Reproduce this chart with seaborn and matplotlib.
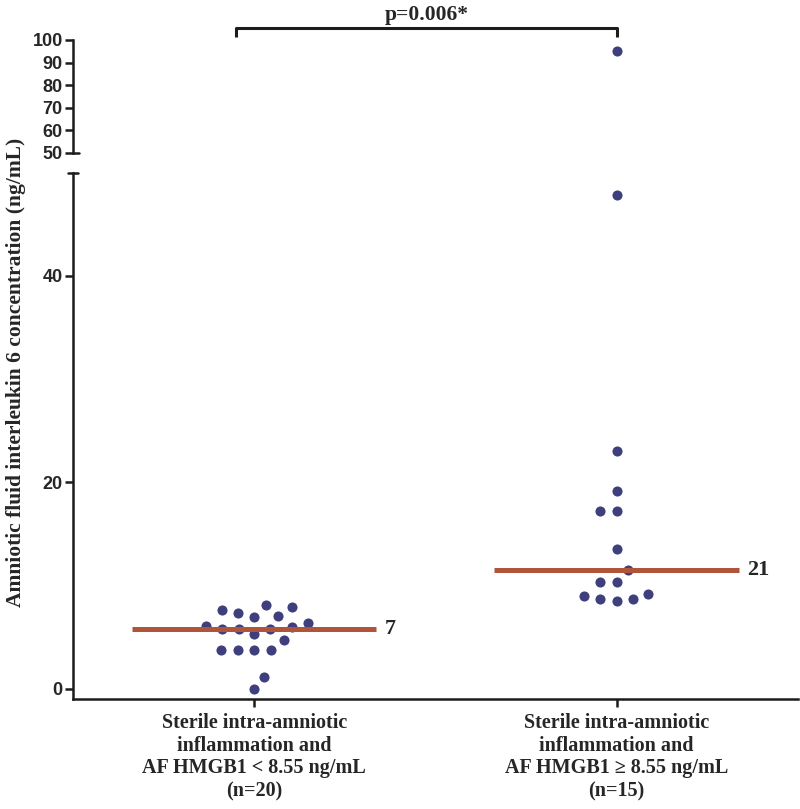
import numpy as np
import pandas as pd
import matplotlib
matplotlib.use('Agg')
import matplotlib.pyplot as plt
import seaborn as sns

# ============================================================
# Data
# ============================================================
groups = [
    'Sterile intra-amniotic\ninflammation and\nAF HMGB1 < 8.55 ng/mL\n(n=20)',
    'Sterile intra-amniotic\ninflammation and\nAF HMGB1 \u2265 8.55 ng/mL\n(n=15)',
]
low_hmgb1_il6 = [8.1, 7.6, 7.1, 7.0, 7.4, 7.9, 6.4, 6.0, 5.8, 5.3,
                 5.8, 5.8, 6.05, 4.7, 3.8, 3.8, 3.75, 3.75, 1.2, 0.0]
high_hmgb1_il6 = [95.3, 47.8, 23.0, 19.2, 17.2, 17.2, 13.6, 11.5,
                  10.4, 10.4, 9.2, 8.7, 8.5, 8.7, 9.0]
median_labels = ['7', '21']
p_label = 'p=0.006*'
lower_ticks = [0, 20, 40]
upper_ticks = [50, 60, 70, 80, 90, 100]
axis_break = 50

DOT = '#3f3f7d'
MED = '#b1553a'
INK = '#1c1c1c'
SERIF = ['Liberation Serif', 'DejaVu Serif']
SANS = ['Liberation Sans', 'DejaVu Sans']

df = pd.DataFrame({
    'group': [groups[0]] * len(low_hmgb1_il6) + [groups[1]] * len(high_hmgb1_il6),
    'il6': low_hmgb1_il6 + high_hmgb1_il6,
})
medians = df.groupby('group')['il6'].median().reindex(groups).values

sns.set_style('ticks')

fig = plt.figure(figsize=(8, 8.09), dpi=100)
ax_hi = fig.add_axes([0.09125, 0.8113, 0.906, 0.1393])
ax_lo = fig.add_axes([0.09125, 0.1356, 0.906, 0.651])

# ============================================================
# Dots + median bars, split across the broken axis
# ============================================================
half = 0.337
parts = {ax_hi: df[df['il6'] >= axis_break], ax_lo: df[df['il6'] < axis_break]}
for ax, sub in parts.items():
    sns.swarmplot(data=sub, x='group', y='il6', order=groups, color=DOT,
                  size=9.3, linewidth=2, edgecolor='white', ax=ax, zorder=3)
    ax.hlines(medians, np.arange(len(groups)) - half, np.arange(len(groups)) + half,
              color=MED, lw=3.6, zorder=4)
    ax.set_xlim(-0.5, 1.5)
    ax.set_xlabel('')
    ax.set_ylabel('')
    for s in ['top', 'right']:
        ax.spines[s].set_visible(False)
    for s in ['left', 'bottom']:
        ax.spines[s].set_linewidth(1.8)
        ax.spines[s].set_color(INK)
    ax.tick_params(axis='both', direction='out', length=5.8, width=1.8, color=INK, pad=1.5)

# upper panel (50-100)
ax_hi.set_ylim(50, 100)
ax_hi.spines['bottom'].set_visible(False)
ax_hi.set_xticks([])
ax_hi.set_yticks(upper_ticks)
ax_hi.set_yticklabels([str(t) for t in upper_ticks], family=SANS, fontweight='bold', fontsize=13)
ax_hi.plot([0, 0.0083], [0, 0], transform=ax_hi.transAxes, color=INK, lw=1.8, clip_on=False)

# lower panel (0-50)
ax_lo.set_ylim(-1, 50)
ax_lo.set_yticks(lower_ticks)
ax_lo.set_yticklabels([str(t) for t in lower_ticks], family=SANS, fontweight='bold', fontsize=13)
ax_lo.plot([-0.007, 0.007], [1, 1], transform=ax_lo.transAxes, color=INK, lw=1.8, clip_on=False)
ax_lo.set_xticks(range(len(groups)))
ax_lo.set_xticklabels(groups, family=SERIF, fontweight='bold', fontsize=14.5, linespacing=1.18)
ax_lo.tick_params(axis='x', pad=4)

# median labels
for i, (m, lab) in enumerate(zip(medians, median_labels)):
    ax_lo.annotate(lab, xy=(i + half, m), xytext=(6, 0), textcoords='offset points',
                   ha='left', va='center', family=SERIF, fontweight='bold', fontsize=16)

# significance bracket
ax_hi.plot([-0.05, -0.05, 1.0, 1.0], [101.3, 105.3, 105.3, 101.3], color=INK, lw=2.2,
           clip_on=False, solid_capstyle='butt')
ax_hi.text(0.475, 111.0, p_label, ha='center', va='center', family=SERIF,
           fontweight='bold', fontsize=15.5)

fig.text(16 / 800, 1 - 372 / 809, 'Amniotic fluid interleukin 6 concentration (ng/mL)',
         rotation=90, ha='center', va='center', family=SERIF, fontweight='bold', fontsize=15.5)

plt.savefig('out.png', dpi=100)
plt.close()
print('Saved out.png')
